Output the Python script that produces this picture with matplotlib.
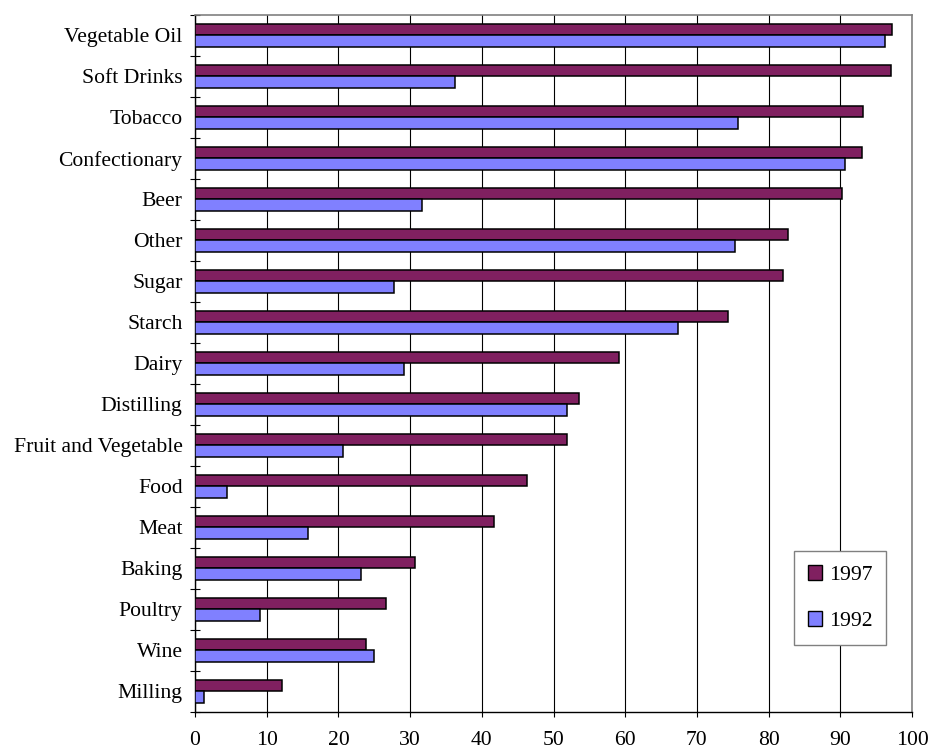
import numpy as np
import matplotlib
matplotlib.use('Agg')
from matplotlib import pyplot as plt
from matplotlib.patches import Patch

# Chart data, top to bottom
categories = ['Vegetable Oil', 'Soft Drinks', 'Tobacco', 'Confectionary', 'Beer',
              'Other', 'Sugar', 'Starch', 'Dairy', 'Distilling',
              'Fruit and Vegetable', 'Food', 'Meat', 'Baking', 'Poultry',
              'Wine', 'Milling']
values_1997 = [97.2, 97.1, 93.2, 93.0, 90.2, 82.7, 82.0, 74.3, 59.1, 53.6,
               51.9, 46.3, 41.7, 30.7, 26.7, 23.8, 12.1]
values_1992 = [96.3, 36.3, 75.7, 90.7, 31.6, 75.3, 27.8, 67.3, 29.1, 51.9,
               20.7, 4.4, 15.7, 23.2, 9.1, 24.9, 1.3]
xticks = list(range(0, 101, 10))

col_1997 = '#802060'
col_1992 = '#8080FF'

plt.rcParams['font.family'] = ['Liberation Serif', 'DejaVu Serif']
plt.rcParams['font.size'] = 15.6

fig = plt.figure(figsize=(9.34, 7.51), dpi=100)
ax = fig.add_axes([195 / 934, 1 - 711.7 / 751, 717 / 934, 697 / 751])

y = np.arange(len(categories))
h = 0.285
ax.barh(y - h / 2, values_1997, height=h, color=col_1997, edgecolor='black',
        linewidth=1.1, zorder=3)
ax.barh(y + h / 2, values_1992, height=h, color=col_1992, edgecolor='black',
        linewidth=1.1, zorder=3)

ax.set_xlim(0, 100)
ax.set_ylim(len(categories) - 0.5, -0.5)
ax.set_xticks(xticks)
ax.set_xticklabels([str(t) for t in xticks])
ax.set_yticks(y)
ax.set_yticklabels(categories)
ax.set_yticks(np.arange(-0.5, len(categories), 1), minor=True)

ax.tick_params(axis='y', which='major', length=0, pad=9)
ax.tick_params(axis='y', which='minor', direction='inout', length=7.5,
               width=0.8, color='black')
ax.tick_params(axis='x', which='major', direction='out', length=3.6,
               width=0.8, pad=10)

ax.grid(axis='x', color='black', linewidth=0.8, zorder=0)
ax.set_axisbelow(True)

for s in ['top', 'right']:
    ax.spines[s].set_color('#808080')
    ax.spines[s].set_linewidth(1.2)
for s in ['left', 'bottom']:
    ax.spines[s].set_color('black')
    ax.spines[s].set_linewidth(1.0)

handles = [Patch(facecolor=col_1997, edgecolor='black', linewidth=1.0, label='1997'),
           Patch(facecolor=col_1992, edgecolor='black', linewidth=1.0, label='1992')]
leg = ax.legend(handles=handles, loc='upper left', bbox_to_anchor=(0.835, 0.2306),
                borderaxespad=0, fancybox=False, framealpha=1, edgecolor='#808080',
                handlelength=0.66, handleheight=0.66, handletextpad=0.3,
                labelspacing=1.2, borderpad=0.65)
leg.get_frame().set_linewidth(1.0)
leg.set_zorder(5)

fig.savefig('out.png', dpi=100)
